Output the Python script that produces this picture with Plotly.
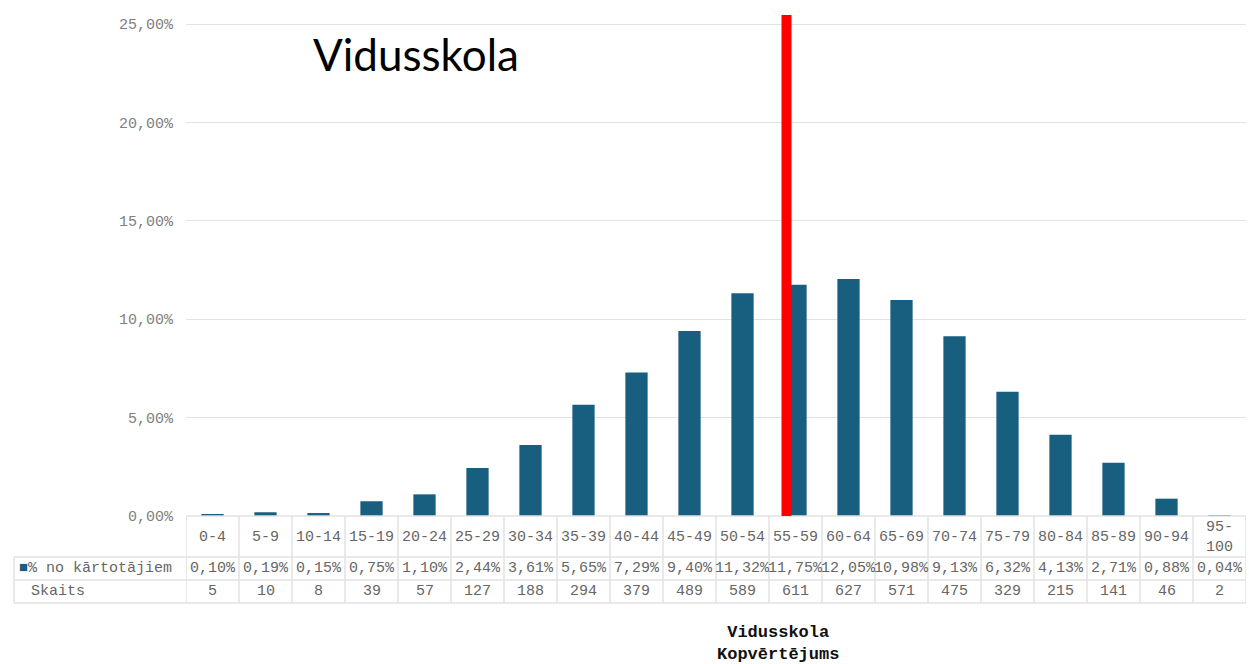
import plotly.graph_objects as go

categories = ["0-4", "5-9", "10-14", "15-19", "20-24", "25-29", "30-34", "35-39", "40-44", "45-49",
              "50-54", "55-59", "60-64", "65-69", "70-74", "75-79", "80-84", "85-89", "90-94", "95-<br>100"]
pct_values = [0.10, 0.19, 0.15, 0.75, 1.10, 2.44, 3.61, 5.65, 7.29, 9.40,
              11.32, 11.75, 12.05, 10.98, 9.13, 6.32, 4.13, 2.71, 0.88, 0.04]
counts = [5, 10, 8, 39, 57, 127, 188, 294, 379, 489, 589, 611, 627, 571, 475, 329, 215, 141, 46, 2]
y_ticks = [0, 5, 10, 15, 20, 25]
y_tick_labels = ["0,00%", "5,00%", "10,00%", "15,00%", "20,00%", "25,00%"]
series_name = "% no kārtotājiem"
count_name = "Skaits"
marker_pos = 10.83  # red line position (category index units)

BAR = "#175e7f"
GRID = "#e2e2e2"
TXT = "#666666"
MONO = "Liberation Mono"
FS = 15

n = len(categories)
xs = list(range(n))

fig = go.Figure()
fig.add_trace(go.Bar(x=xs, y=pct_values, marker=dict(color=BAR, line=dict(width=0)),
                     width=0.42, showlegend=False, hoverinfo="skip"))

ytop = 25.46
fig.update_layout(
    width=1249, height=664,
    margin=dict(l=186, r=3, t=15, b=148),
    paper_bgcolor="white", plot_bgcolor="white",
    xaxis=dict(range=[-0.5, n - 0.5], showticklabels=False, showgrid=False, zeroline=False,
               showline=False, ticks=""),
    yaxis=dict(range=[0, ytop], tickvals=y_ticks, ticktext=y_tick_labels,
               showgrid=True, gridcolor=GRID, gridwidth=1, zeroline=False, showline=False,
               ticks="", ticklen=0, ticklabelstandoff=12,
               tickfont=dict(family=MONO, size=FS, color="#808080")),
)

def py(pix):
    return (516 - pix) / 501.0

def px(pix):
    return (pix - 186) / 1060.0

shapes = []
row_lines = [py(557), py(580), py(603)]
shapes.append(dict(type="line", xref="paper", yref="paper", x0=0, x1=1, y0=0, y1=0,
                   line=dict(color=GRID, width=1.5)))
for yy in row_lines:
    shapes.append(dict(type="line", xref="paper", yref="paper", x0=px(14), x1=1, y0=yy, y1=yy,
                       line=dict(color=GRID, width=1.5)))
for i in range(n + 1):
    shapes.append(dict(type="line", xref="x", yref="paper", x0=i - 0.5, x1=i - 0.5,
                       y0=0, y1=row_lines[-1], line=dict(color=GRID, width=1.5)))
shapes.append(dict(type="line", xref="paper", yref="paper", x0=px(14), x1=px(14),
                   y0=row_lines[0], y1=row_lines[-1], line=dict(color=GRID, width=1.5)))
shapes.append(dict(type="line", xref="x", yref="y", x0=marker_pos, x1=marker_pos, y0=0, y1=ytop,
                   line=dict(color="#ff0000", width=10)))
fig.update_layout(shapes=shapes)

ann = []
for i, c in enumerate(categories):
    ann.append(dict(x=i, y=py(537), xref="x", yref="paper", text=c, showarrow=False,
                    font=dict(family=MONO, size=FS, color=TXT), xanchor="center", yanchor="middle"))
    ann.append(dict(x=i, y=py(568), xref="x", yref="paper",
                    text=f"{pct_values[i]:.2f}%".replace(".", ","), showarrow=False,
                    font=dict(family=MONO, size=FS, color=TXT), xanchor="center", yanchor="middle"))
    ann.append(dict(x=i, y=py(591), xref="x", yref="paper", text=str(counts[i]), showarrow=False,
                    font=dict(family=MONO, size=FS, color=TXT), xanchor="center", yanchor="middle"))

ann.append(dict(x=px(17), y=py(568), xref="paper", yref="paper",
                text=f"<span style='color:{BAR}'>■</span>{series_name}", showarrow=False,
                font=dict(family=MONO, size=FS, color=TXT), xanchor="left", yanchor="middle"))
ann.append(dict(x=px(29), y=py(591), xref="paper", yref="paper", text=count_name, showarrow=False,
                font=dict(family=MONO, size=FS, color=TXT), xanchor="left", yanchor="middle"))
ann.append(dict(x=px(778), y=py(643), xref="paper", yref="paper",
                text="<b>Vidusskola</b><br><b>Kopvērtējums</b>", showarrow=False,
                font=dict(family=MONO, size=17, color="#111111"), xanchor="center", yanchor="middle"))
ann.append(dict(x=px(311), y=py(54), xref="paper", yref="paper", text="Vidusskola", showarrow=False,
                font=dict(family="Lato", size=44, color="#000000"), xanchor="left", yanchor="middle"))
fig.update_layout(annotations=ann)

fig.write_html("out.html", config={"displayModeBar": False},
               post_script="document.body.style.margin='0';document.body.style.overflow='hidden';")
